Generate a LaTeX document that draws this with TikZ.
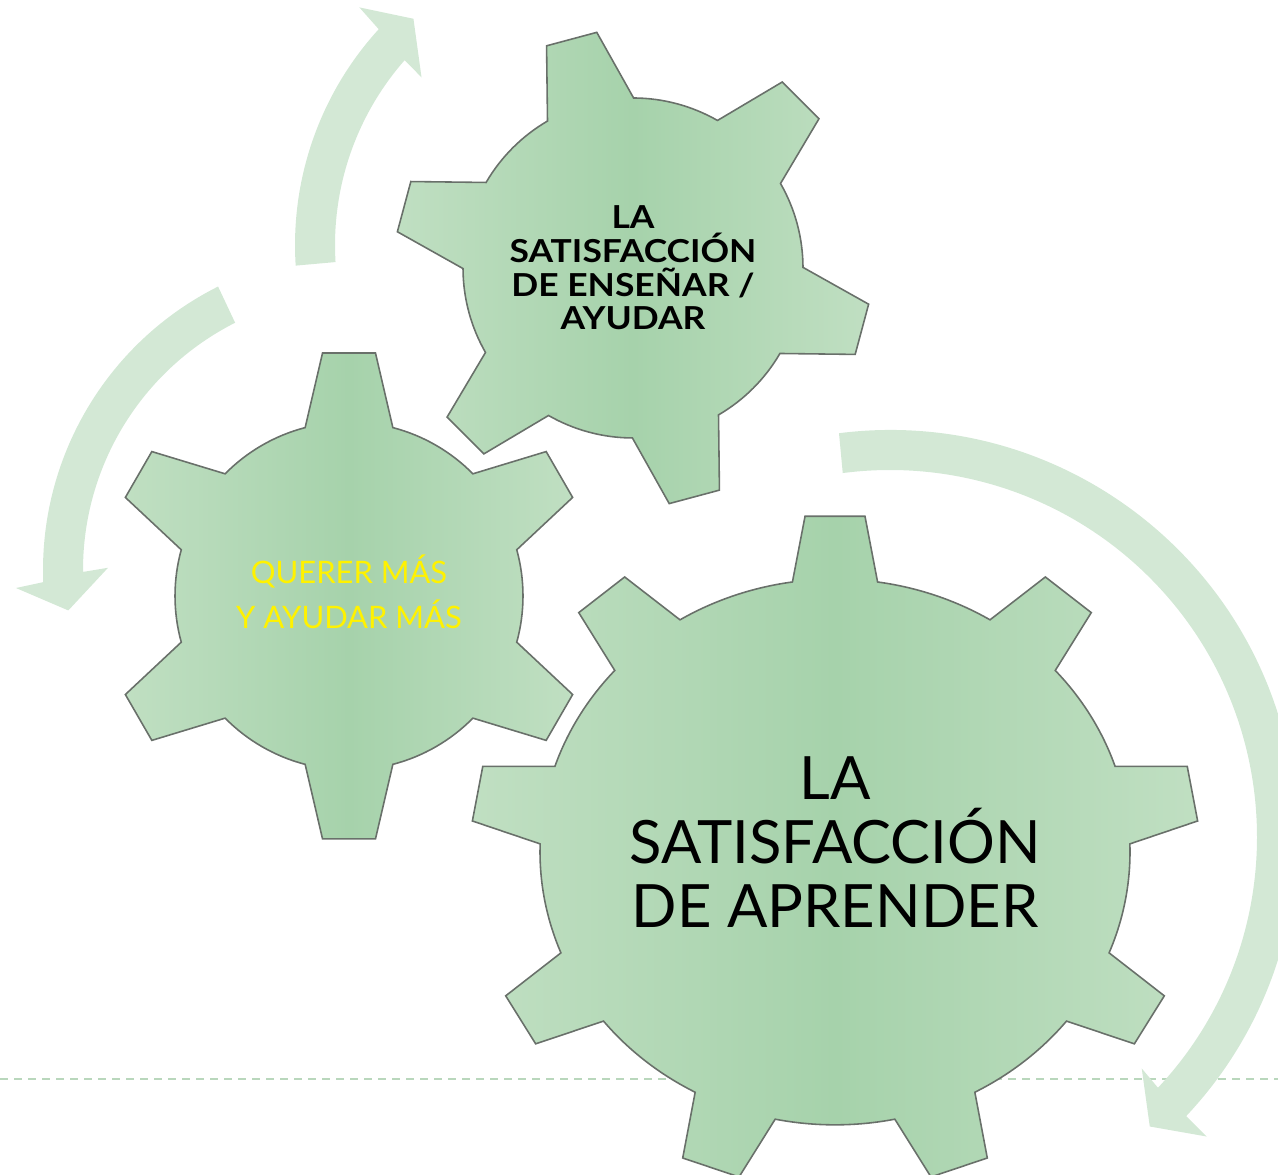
\documentclass[tikz,border=0pt]{standalone}
\usepackage{fontspec}
\setmainfont{Lato}
\newfontfamily\gearbold[FakeStretch=1.12]{Lato}

\definecolor{gearlight}{RGB}{192,223,194}
\definecolor{geardark}{RGB}{166,210,171}
\definecolor{gearline}{RGB}{105,112,106}
\definecolor{arrowgreen}{RGB}{211,232,213}
\definecolor{dashgreen}{RGB}{185,215,188}

\tikzset{
  gear/.style={draw=gearline, line width=0.45pt, left color=gearlight, right color=gearlight, middle color=geardark},
  bendarrow/.style={fill=arrowgreen},
  gearlabel/.style={align=center, inner sep=0pt}
}

% #1 teeth, #2 first tooth angle, #3 body radius, #4 tip radius,
% #5 half angle of a tooth at its foot, #6 half angle at its tip
\newcommand{\gearpath}[6]{%
  \pgfmathsetmacro{\gstep}{360/#1}%
  \pgfmathtruncatemacro{\glast}{#1-1}%
  \path[gear] ({#2-#5}:#3)
    \foreach \k in {0,...,\glast}{
      -- ({#2+\k*\gstep-#6}:#4) -- ({#2+\k*\gstep+#6}:#4)
      -- ({#2+\k*\gstep+#5}:#3)
      arc[start angle={#2+\k*\gstep+#5}, end angle={#2+(\k+1)*\gstep-#5}, radius=#3]
    } -- cycle;}

\begin{document}
\begin{tikzpicture}[x=0.1mm, y=0.1mm]
    \useasboundingbox (0,0) rectangle (1278,1175);
    \clip (0,0) rectangle (1278,1175);

    % Centres of the gears and of the arrows
    \coordinate (O_1) at (633,907);
    \coordinate (O_2) at (349,579);
    \coordinate (O_3) at (835,323);
    \coordinate (A_1) at (615,930);
    \coordinate (A_2) at (360,605);
    \coordinate (A_3) at (890,338);

    % Dashed line behind everything
    \coordinate (L) at (0,96);
    \coordinate (R) at (1278,96);
    \draw[dashgreen, line width=0.2mm, dash pattern=on 0.8mm off 0.6mm] (L) -- (R);

    % Draw the arrow over the top gear
    \begin{scope}[shift={(A_1)}]
        \fill[bendarrow] (183.7:32mm) arc[start angle=183.7, end angle=137.6, radius=32mm]
            -- (137.1:34.9mm) -- (131.7:30.3mm) -- (139.1:25.6mm) -- (138.7:28mm)
            arc[start angle=138.7, end angle=183.5, radius=28mm] -- cycle;
    \end{scope}

    % Draw the arrow on the left
    \begin{scope}[shift={(A_2)}]
        \fill[bendarrow] (116.6:31.7mm) arc[start angle=116.6, end angle=182.2, radius=31.7mm]
            -- (183:34.45mm) -- (187.9:29.45mm) -- (179.5:25.2mm) -- (180.4:27.7mm)
            arc[start angle=180.4, end angle=116.8, radius=27.7mm] -- cycle;
    \end{scope}

    % Draw the big arrow on the right
    \begin{scope}[shift={(A_3)}]
        \fill[bendarrow] (97.2:40.7mm) arc[start angle=97.2, end angle=-43.3, radius=40.7mm]
            -- (-43.4:43.6mm) -- (-48.1:38.9mm) -- (-42.6:34.2mm) -- (-43.1:36.7mm)
            arc[start angle=-43.1, end angle=97.4, radius=36.7mm] -- cycle;
    \end{scope}

    % Draw the gears
    \begin{scope}[shift={(O_1)}]
        \gearpath{6}{105}{17mm}{23.84mm}{15.2}{6.26}
    \end{scope}
    \begin{scope}[shift={(O_2)}]
        \gearpath{6}{90}{17.4mm}{24.44mm}{14.6}{6.22}
    \end{scope}
    \begin{scope}[shift={(O_3)}, yscale=0.925]
        \gearpath{9}{90}{29.5mm}{36.42mm}{8.3}{4.72}
    \end{scope}

    % Label the gears
    \node[gearlabel, font=\gearbold\bfseries\fontsize{9}{9.6}\selectfont] (ensenar) at (O_1)
        {LA\\SATISFACCIÓN\\DE ENSEÑAR /\\AYUDAR};
    \node[gearlabel, text=yellow, font=\fontsize{8.8}{12.8}\selectfont, yshift=0.4mm] (querer) at (O_2)
        {QUERER MÁS\\Y AYUDAR MÁS};
    \node[gearlabel, font=\fontsize{17}{18.2}\selectfont, yshift=1mm] (aprender) at (O_3)
        {LA\\SATISFACCIÓN\\DE APRENDER};
\end{tikzpicture}
\end{document}
